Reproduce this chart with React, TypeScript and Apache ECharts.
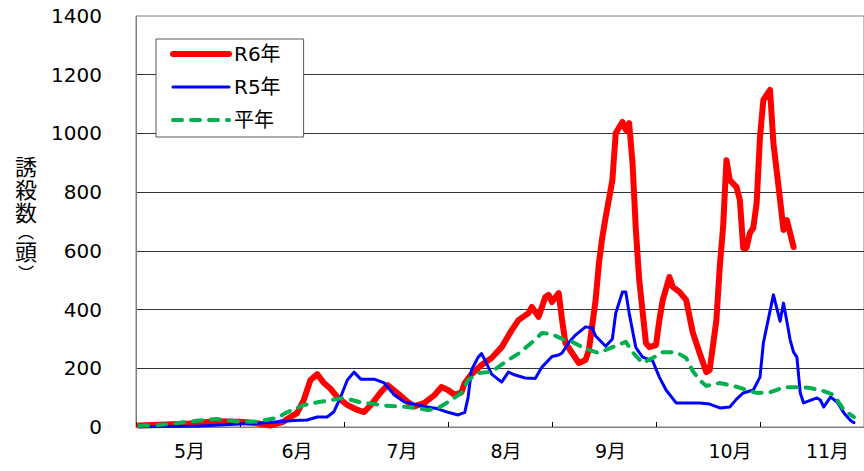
import React, { useEffect, useRef } from 'react';
import * as echarts from 'echarts';

// Month categories (each month spans 31 day-slots on the hidden day axis)
const months = ['5月', '6月', '7月', '8月', '9月', '10月', '11月'];
const DAY_SPAN = 217;
const Y_MAX = 1400;
const Y_STEP = 200;
const seriesNames = ['R6年', 'R5年', '平年'];

// [day index from 5/1, 誘殺数]
const r6Data = [
  [1, 5], [7, 8], [16, 12], [24, 20], [31, 18], [36, 13], [40, 5], [44, 18], [45, 27], [48, 47],
  [50, 92], [52, 160], [54, 180], [56, 150], [58, 130], [60, 102], [63, 75], [66, 58], [68, 51],
  [70, 75], [73, 119], [75, 143], [78, 115], [81, 85], [83, 70], [86, 82], [89, 109], [91, 136],
  [93, 126], [95, 109], [97, 118], [98, 150], [100, 180], [103, 211], [106, 235], [109, 272],
  [112, 330], [114, 364], [117, 388], [118, 409], [120, 375], [122, 443], [123, 450], [124, 426],
  [126, 456], [127, 364], [128, 286], [130, 252], [132, 218], [134, 228], [135, 262], [137, 432],
  [138, 559], [139, 647], [140, 715], [142, 841], [143, 1001], [145, 1039], [146, 1012], [147, 1035],
  [148, 899], [149, 671], [150, 501], [152, 286], [153, 272], [155, 279], [156, 364], [157, 432],
  [159, 511], [160, 477], [162, 460], [164, 432], [166, 320], [168, 252], [170, 187], [171, 194],
  [173, 364], [174, 545], [175, 681], [176, 909], [177, 841], [179, 817], [180, 773], [181, 610],
  [182, 610], [183, 661], [184, 678], [185, 763], [186, 988], [187, 1114], [189, 1148], [190, 967],
  [192, 773], [193, 671], [194, 705], [196, 613],
];

const r5Data = [
  [1, 0], [19, 3], [31, 10], [40, 15], [47, 22], [51, 24], [54, 34], [57, 34], [59, 52], [61, 102],
  [63, 160], [65, 187], [67, 163], [71, 163], [74, 150], [77, 109], [80, 85], [83, 78], [86, 70],
  [90, 62], [93, 50], [96, 41], [98, 50], [99, 102], [100, 194], [102, 238], [103, 250], [104, 228],
  [106, 180], [109, 153], [111, 187], [113, 177], [116, 167], [119, 165], [121, 204], [124, 240],
  [126, 245], [127, 252], [129, 288], [131, 313], [134, 341], [136, 337], [137, 310], [140, 275],
  [142, 300], [143, 388], [145, 460], [146, 460], [147, 388], [149, 270], [151, 238], [154, 225],
  [156, 170], [158, 126], [161, 82], [164, 82], [168, 82], [171, 78], [174, 65], [177, 68], [179, 95],
  [181, 116], [184, 126], [186, 170], [187, 286], [188, 341], [190, 450], [192, 360], [193, 422],
  [194, 360], [195, 296], [196, 255], [197, 238], [198, 116], [199, 82], [203, 99], [204, 92],
  [205, 68], [207, 102], [209, 85], [211, 48], [213, 22], [214, 15],
];

const normalData = [
  [1, 3], [10, 10], [18, 21], [24, 27], [31, 18], [36, 18], [42, 31], [45, 50], [50, 75], [54, 84],
  [62, 99], [67, 84], [74, 73], [81, 68], [87, 58], [90, 64], [94, 92], [97, 116], [99, 160],
  [102, 184], [106, 188], [110, 221], [114, 250], [118, 288], [121, 320], [124, 316], [127, 300],
  [130, 290], [134, 266], [138, 252], [142, 272], [146, 290], [148, 255], [151, 218], [154, 235],
  [157, 255], [161, 255], [164, 235], [166, 190], [168, 160], [170, 140], [174, 150], [179, 137],
  [185, 116], [189, 118], [193, 135], [198, 136], [201, 133], [205, 122], [208, 109], [211, 58],
  [214, 34],
];

const yTitle = '{a|誘}\n{a|殺}\n{a|数}\n{p|︵}\n{a|頭}\n{q|︶}';

export default function App() {
  const ref = useRef<HTMLDivElement>(null);
  useEffect(() => {
    if (!ref.current) return;
    const chart = echarts.init(ref.current, null, { renderer: 'svg' });
    const latin = 'DejaVu Sans, Noto Sans CJK JP, sans-serif';
    const titleFont = 'Liberation Sans, Noto Sans CJK JP, sans-serif';
    const labelShift = [3, 10, 12, 12, 13, 44, 31];
    const rich: any = {};
    labelShift.forEach((p, i) => {
      rich['m' + i] = { fontSize: 19, fontFamily: latin, color: '#000', padding: [0, 0, 0, p] };
    });
    chart.setOption({
      animation: false,
      grid: {
        left: 136, top: 16, width: 737, bottom: 44,
        show: true, borderColor: '#7f7f7f', borderWidth: 1,
      },
      legend: {
        orient: 'vertical', left: 156, top: 39,
        padding: [5, 23, 7, 14], itemWidth: 56, itemHeight: 14, itemGap: 13,
        borderColor: '#595959', borderWidth: 1, backgroundColor: '#fff',
        itemStyle: { opacity: 0 },
        lineStyle: { width: 'inherit' },
        textStyle: { fontSize: 20, fontFamily: latin, color: '#000', lineHeight: 20 },
        data: seriesNames,
      },
      xAxis: [
        {
          type: 'category', data: months, boundaryGap: true,
          axisLine: { lineStyle: { color: '#7f7f7f', width: 1 } },
          axisTick: { show: true, inside: true, length: 5, alignWithLabel: false, lineStyle: { color: '#000' } },
          axisLabel: { interval: 0, margin: 14, formatter: (v: string, i: number) => `{m${i}|${v}}`, rich },
          splitLine: { show: false },
        },
        { type: 'value', min: 0, max: DAY_SPAN, show: false },
      ],
      yAxis: {
        type: 'value', min: 0, max: Y_MAX, interval: Y_STEP,
        axisLine: { show: true, lineStyle: { color: '#7f7f7f' } },
        axisTick: { show: false },
        axisLabel: { fontSize: 20, fontFamily: latin, color: '#000', margin: 34, formatter: (v: number) => String(v) },
        splitLine: { show: true, showMinLine: false, showMaxLine: false, lineStyle: { color: '#333', width: 1 } },
        name: yTitle, nameLocation: 'middle', nameGap: 110, nameRotate: 0,
        nameTextStyle: {
          align: 'center', verticalAlign: 'middle', padding: [0, 0, 4, 0],
          rich: {
            a: { fontSize: 22, lineHeight: 23, fontFamily: titleFont, color: '#000' },
            p: { fontSize: 16, lineHeight: 16, fontFamily: titleFont, color: '#000' },
            q: { fontSize: 16, lineHeight: 20, fontFamily: titleFont, color: '#000' },
          },
        },
      },
      series: [
        {
          name: seriesNames[0], type: 'line', xAxisIndex: 1, data: r6Data, symbol: 'none',
          lineStyle: { color: '#ff0000', width: 6, cap: 'round', join: 'round' },
          itemStyle: { color: '#ff0000' },
        },
        {
          name: seriesNames[1], type: 'line', xAxisIndex: 1, data: r5Data, symbol: 'none',
          lineStyle: { color: '#0000ff', width: 3, cap: 'round', join: 'round' },
          itemStyle: { color: '#0000ff' },
        },
        {
          name: seriesNames[2], type: 'line', xAxisIndex: 1, data: normalData, symbol: 'none',
          lineStyle: { color: '#00b050', width: 4, type: [9, 9], cap: 'round', join: 'round' },
          itemStyle: { color: '#00b050' },
        },
      ],
    });
    return () => chart.dispose();
  }, []);
  return <div ref={ref} style={{ position: 'absolute', left: 0, top: 0, width: 864, height: 471 }} />;
}
